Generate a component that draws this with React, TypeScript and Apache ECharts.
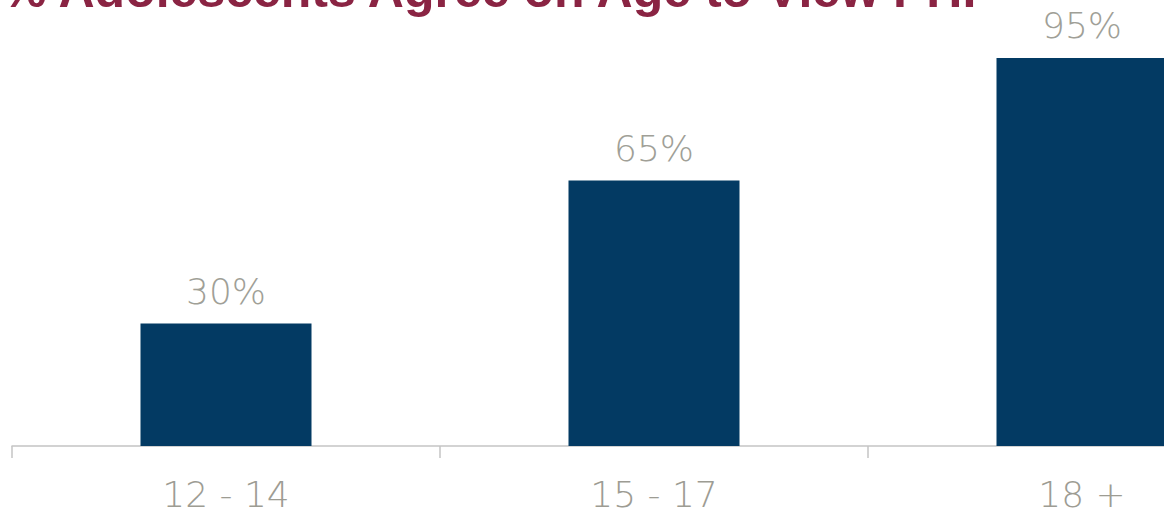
import React, { useEffect, useRef } from "react";
import * as echarts from "echarts";

const titleText = "% Adolescents Agree on Age to View PHI";
const categories = ["12 - 14", "15 - 17", "18 +"];
const values = [30, 65, 95];

export default function App() {
  const ref = useRef<HTMLDivElement>(null);
  useEffect(() => {
    if (!ref.current) return;
    const chart = echarts.init(ref.current, undefined, { renderer: "svg" });
    chart.setOption({
      animation: false,
      backgroundColor: "#ffffff",
      graphic: [
        {
          type: "text",
          left: 2,
          top: -35,
          style: {
            text: titleText,
            fontFamily: "Liberation Sans, Arial, sans-serif",
            fontWeight: "bold",
            fontSize: 50,
            fill: "#8a2443",
          },
        },
      ],
      grid: { left: 12, right: 4, top: 37.5, bottom: 65, containLabel: false },
      xAxis: {
        type: "category",
        data: categories,
        axisLine: { show: true, lineStyle: { color: "#c4c4c4", width: 1.5 } },
        axisTick: { show: true, length: 12, lineStyle: { color: "#c4c4c4", width: 1.5 } },
        axisLabel: {
          fontSize: 36,
          color: "#9d9c93",
          margin: 30,
          fontFamily: "'DejaVu Sans', sans-serif",
          fontWeight: 200,
        },
      },
      yAxis: { type: "value", min: 0, max: 100, show: false, splitLine: { show: false } },
      series: [
        {
          type: "bar",
          data: values,
          barWidth: 171,
          itemStyle: { color: "#033a63" },
          label: {
            show: true,
            position: "top",
            distance: 14,
            formatter: "{c}%",
            fontSize: 36,
            color: "#a09f97",
            fontFamily: "'DejaVu Sans', sans-serif",
            fontWeight: 200,
          },
        },
      ],
    });
    return () => chart.dispose();
  }, []);
  return (
    <div style={{ position: "fixed", left: 0, top: 0, width: 1164, height: 512, overflow: "hidden", background: "#fff" }}>
      <div ref={ref} style={{ width: 1300, height: 512 }} />
    </div>
  );
}
